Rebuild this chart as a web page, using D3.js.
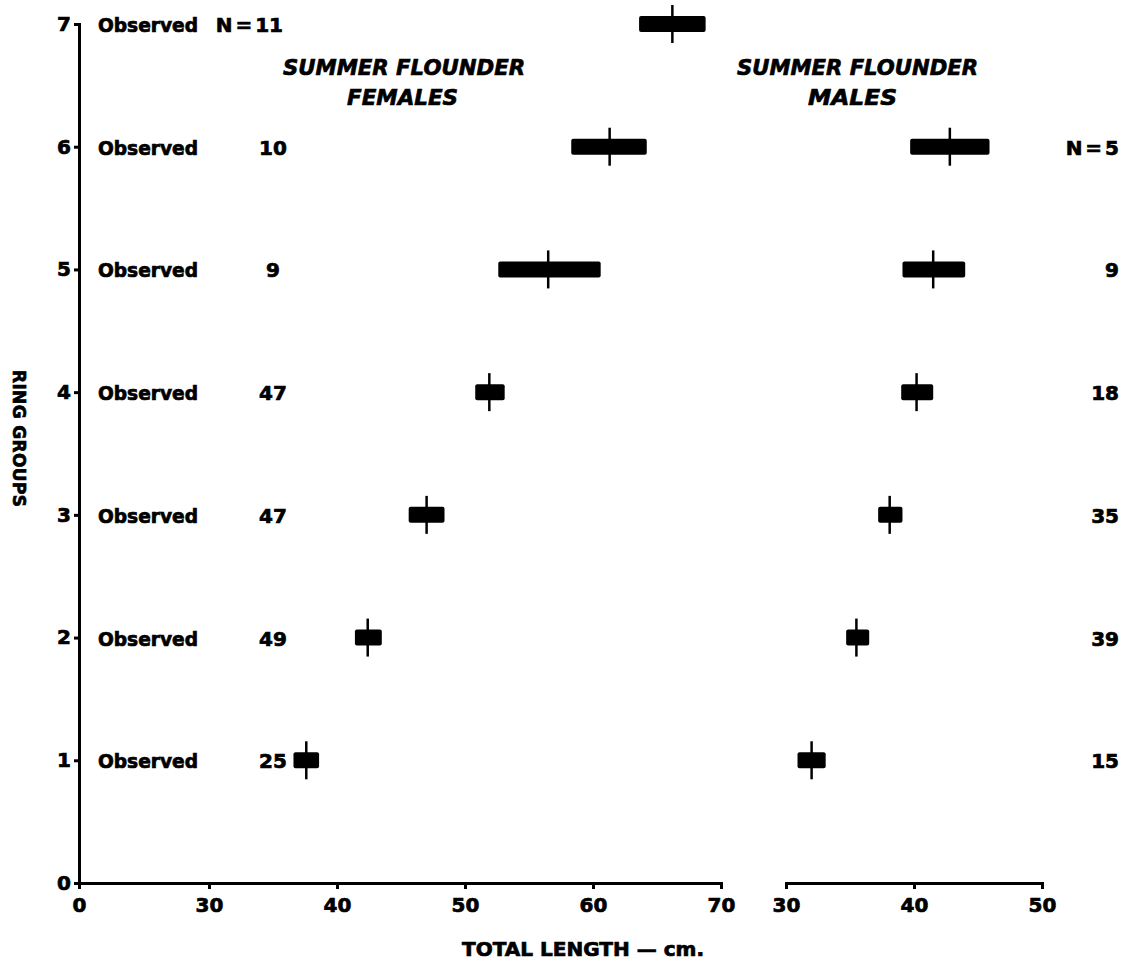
<!DOCTYPE html>
<html>
<head>
<meta charset="utf-8">
<script src="https://cdn.jsdelivr.net/npm/d3@7/dist/d3.min.js"></script>
<style>
    body { margin: 0; background: #fff; }
    svg text { font-family: "DejaVu Sans", sans-serif; font-weight: bold; fill: #000;
               stroke: #000; stroke-width: 0.7px; }
    .axis path, .axis line { stroke: #000; stroke-width: 3; }
    .axis text { font-size: 20px; }
</style>
</head>
<body>
<svg id="chart" width="1127" height="964"></svg>
<script>
/* Ring groups (age) against total length, summer flounder */

const ringTicks    = [0, 1, 2, 3, 4, 5, 6, 7];
const femaleTicks  = [0, 30, 40, 50, 60, 70];
const maleTicks    = [30, 40, 50];

const femaleGroups = [1, 2, 3, 4, 5, 6, 7];
const femaleN      = [25, 49, 47, 47, 9, 10, 11];
const femaleMean   = [37.6, 42.4, 47.0, 51.9, 56.5, 61.3, 66.2];
const femaleLow    = [36.6, 41.4, 45.6, 50.8, 52.6, 58.3, 63.6];
const femaleHigh   = [38.6, 43.5, 48.4, 53.1, 60.6, 64.2, 68.8];

const maleGroups   = [1, 2, 3, 4, 5, 6];
const maleN        = [15, 39, 35, 18, 9, 5];
const maleMean     = [32.0, 35.5, 38.1, 40.2, 41.5, 42.8];
const maleLow      = [30.9, 34.7, 37.2, 39.0, 39.1, 39.7];
const maleHigh     = [33.1, 36.5, 39.1, 41.5, 44.0, 45.9];

const svg = d3.select("#chart");

const y = d3.scaleLinear().domain([0, 7]).range([883, 24]);
// broken axis: 0 sits at the origin, then 30..70
const xF = d3.scaleLinear().domain([0, 30, 70]).range([79, 209, 721]);
const xM = d3.scaleLinear().domain([30, 50]).range([786, 1042]);

/**
 * Zip the plain arrays into row objects.
 */
function rows(groups, n, mean, low, high)
{
    return groups.map((g, i) => ({group: g, n: n[i], mean: mean[i], low: low[i], high: high[i]}));
}

const females = rows(femaleGroups, femaleN, femaleMean, femaleLow, femaleHigh);
const males   = rows(maleGroups, maleN, maleMean, maleLow, maleHigh);

// Axes
svg.append("g")
    .attr("class", "axis")
    .attr("transform", "translate(79,0)")
    .call(d3.axisLeft(y).tickValues(ringTicks).tickFormat(d3.format("d"))
        .tickSize(5).tickSizeOuter(5).tickPadding(3));

svg.append("g")
    .attr("class", "axis")
    .attr("transform", "translate(0,883)")
    .call(d3.axisBottom(xF).tickValues(femaleTicks).tickFormat(d3.format("d")).tickSize(6).tickPadding(9));

svg.append("g")
    .attr("class", "axis")
    .attr("transform", "translate(0,883)")
    .call(d3.axisBottom(xM).tickValues(maleTicks).tickFormat(d3.format("d")).tickSize(6).tickPadding(9));

// axis text gets a thinner outline than the tick lines
svg.selectAll(".axis text").style("stroke-width", "0.7px");

// Axis titles
svg.append("text")
    .attr("x", 462)
    .attr("y", 956)
    .attr("textLength", 242)
    .attr("lengthAdjust", "spacingAndGlyphs")
    .style("font-size", "19px")
    .text("TOTAL LENGTH \u2014 cm.");

svg.append("text")
    .attr("transform", "translate(13,370) rotate(90)")
    .attr("textLength", 137)
    .attr("lengthAdjust", "spacing")
    .style("font-size", "17px")
    .text("RING GROUPS");

// Panel titles
function panelTitle(x, lines, widths)
{
    lines.forEach((line, i) => {
        svg.append("text")
            .attr("x", x[i])
            .attr("y", 75 + i * 30)
            .attr("textLength", widths[i])
            .attr("lengthAdjust", "spacingAndGlyphs")
            .style("font-size", "22px")
            .style("font-style", "italic")
            .text(line);
    });
}
panelTitle([283, 347], ["SUMMER FLOUNDER", "FEMALES"], [242, 111]);
panelTitle([737, 808], ["SUMMER FLOUNDER", "MALES"], [241, 89]);

// "Observed" row labels
svg.selectAll("text.obs")
    .data(females)
    .enter()
    .append("text")
    .attr("class", "obs")
    .attr("x", 98)
    .attr("y", d => y(d.group) + 8)
    .attr("textLength", 100)
    .attr("lengthAdjust", "spacingAndGlyphs")
    .style("font-size", "19px")
    .text("Observed");

// Sample sizes
function sampleSizes(data, x, anchor, top)
{
    svg.selectAll(null)
        .data(data)
        .enter()
        .append("text")
        .attr("x", x)
        .attr("y", d => y(d.group) + 8)
        .attr("text-anchor", anchor)
        .style("font-size", "20px")
        .style("word-spacing", "-4px")
        .text(d => d.group === top ? "N = " + d.n : d.n);
}
sampleSizes(females.filter(d => d.group !== 7), 273, "middle", -1);
sampleSizes(females.filter(d => d.group === 7), 283, "end", 7);
sampleSizes(males, 1119, "end", 6);

// Range bars with a mean line through them
function drawBars(data, x)
{
    let g = svg.append("g");

    let bar = g.selectAll("g.bar")
        .data(data)
        .enter()
        .append("g")
        .attr("class", "bar");

    bar.append("rect")
        .attr("x", d => x(d.low))
        .attr("y", d => y(d.group) - 8)
        .attr("width", d => x(d.high) - x(d.low))
        .attr("height", 16)
        .attr("rx", 2)
        .attr("fill", "#000");

    bar.append("line")
        .attr("x1", d => x(d.mean))
        .attr("x2", d => x(d.mean))
        .attr("y1", d => y(d.group) - 19)
        .attr("y2", d => y(d.group) + 19)
        .attr("stroke", "#000")
        .attr("stroke-width", 2.5);
}
drawBars(females, xF);
drawBars(males, xM);
</script>
</body>
</html>
